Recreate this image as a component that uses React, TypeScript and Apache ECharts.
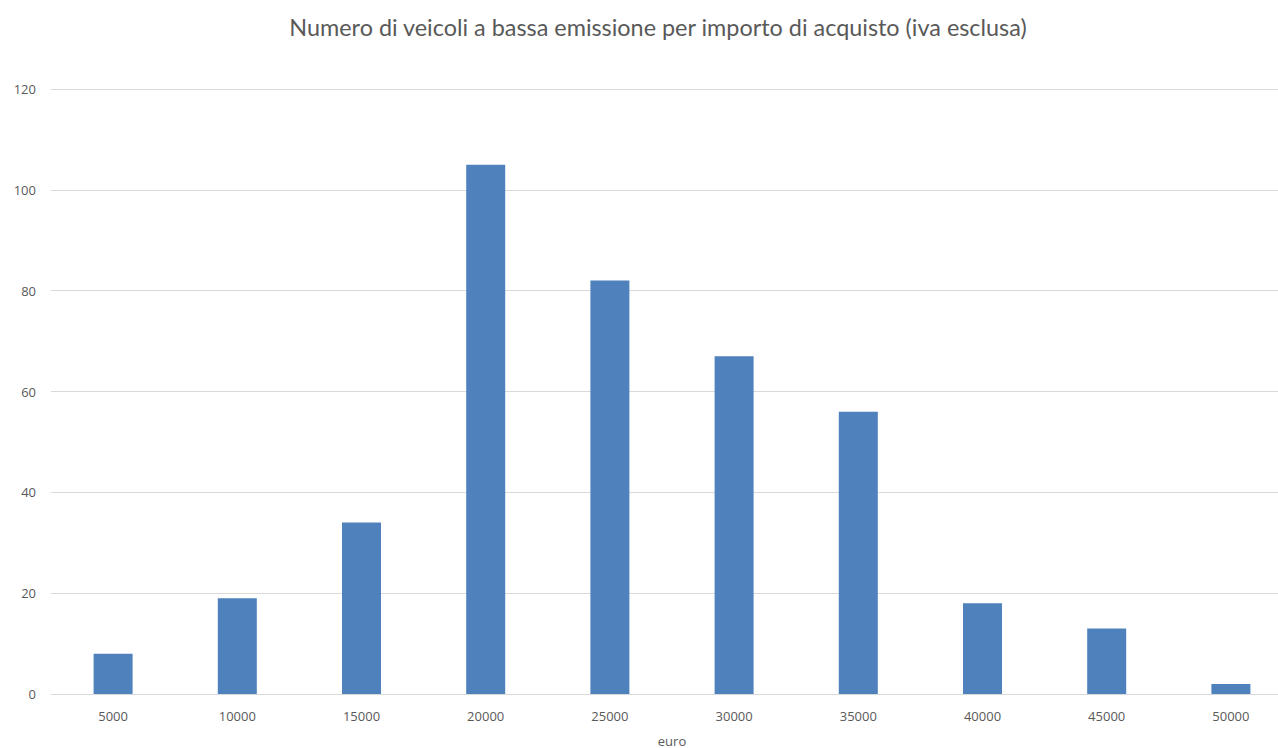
import React, { useEffect, useRef } from "react";
import * as echarts from "echarts";

const categories = ["5000", "10000", "15000", "20000", "25000", "30000", "35000", "40000", "45000", "50000"];
const values = [8, 19, 34, 105, 82, 67, 56, 18, 13, 2];
const titleText = "Numero di veicoli a bassa emissione per importo di acquisto (iva esclusa)";
const xName = "euro";

export default function App() {
  const ref = useRef<HTMLDivElement>(null);
  useEffect(() => {
    const chart = echarts.init(ref.current!, null, { renderer: "svg" });
    chart.setOption({
      animation: false,
      backgroundColor: "#ffffff",
      title: {
        text: titleText,
        left: 653,
        top: 10,
        textAlign: "center",
        textStyle: { fontFamily: "Lato", fontSize: 23.4, fontWeight: "normal", color: "#595959" },
      },
      grid: { left: 51, top: 89, width: 1242, height: 605, containLabel: false, outerBoundsMode: "none" },
      xAxis: {
        type: "category",
        data: categories,
        name: xName,
        nameLocation: "middle",
        nameGap: 40,
        nameTextStyle: { fontFamily: "Open Sans", fontSize: 13, color: "#595959" },
        axisLine: { lineStyle: { color: "#d9d9d9", width: 1 } },
        axisTick: { show: false },
        axisLabel: { fontFamily: "Open Sans", fontSize: 13, color: "#595959", margin: 15 },
      },
      yAxis: {
        type: "value",
        min: 0,
        max: 120,
        interval: 20,
        axisLine: { show: false },
        axisTick: { show: false },
        axisLabel: { fontFamily: "Open Sans", fontSize: 13, color: "#595959", margin: 15 },
        splitLine: { lineStyle: { color: "#d9d9d9", width: 1 } },
      },
      series: [
        {
          type: "bar",
          data: values,
          barWidth: 39,
          itemStyle: { color: "#4f81bd" },
        },
      ],
    });
    return () => chart.dispose();
  }, []);
  return <div ref={ref} style={{ position: "fixed", left: 0, top: 0, width: 1278, height: 748 }} />;
}
